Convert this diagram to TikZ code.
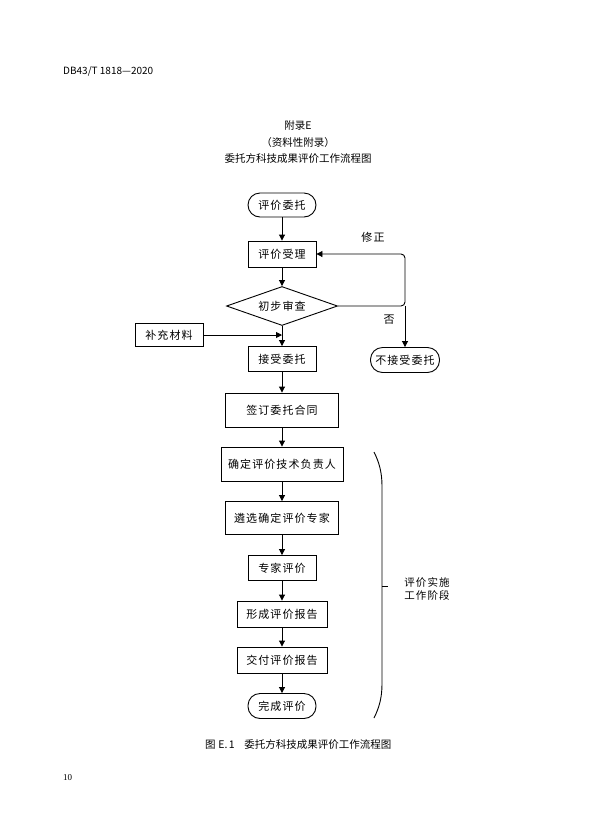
\documentclass[tikz,border=0pt]{standalone}
\usepackage{fontspec}
\setmainfont{Noto Sans CJK SC}
\newfontfamily\boxfont[LetterSpace=10]{Noto Sans CJK SC}
\newfontfamily\pnfont{Liberation Serif}
\usetikzlibrary{shapes.geometric,arrows.meta}
\begin{document}
\begin{tikzpicture}[x=1pt,y=-1pt,
  proc/.style={draw, line width=0.9pt, inner sep=0pt, font=\boxfont\fontsize{11}{13}\selectfont},
  term/.style={proc, rounded corners=12pt},
  dia/.style={draw, line width=0.9pt, diamond, shape aspect=2.85, inner sep=0pt, font=\boxfont\fontsize{11}{13}\selectfont},
  arr/.style={-{Triangle[length=6pt,width=6pt]}, line width=0.9pt},
  lbl/.style={inner sep=0pt, font=\boxfont\fontsize{11}{13}\selectfont},
  hdr/.style={inner sep=0pt, font=\fontsize{10.5}{13}\selectfont}]
\useasboundingbox[fill=white] (0,0) rectangle (593,839);

% header texts
\node[hdr, anchor=west, font=\fontsize{10}{12}\selectfont] (hd) at (63,71) {DB43/T 1818—2020};
\node[hdr] (t1) at (298,126) {附录E};
\node[hdr] (t2) at (298,143) {（资料性附录）};
\node[hdr] (t3) at (298,159) {委托方科技成果评价工作流程图};

% flow nodes
\node[term, minimum width=68pt, minimum height=24pt] (n1) at (282,205) {评价委托};
\node[proc, minimum width=68pt, minimum height=26pt] (n2) at (282,254) {评价受理};
\node[dia, minimum width=111pt, minimum height=39pt] (n3) at (282,306) {初步审查};
\node[proc, minimum width=68pt, minimum height=23pt] (bc) at (169,335) {补充材料};
\node[proc, minimum width=68pt, minimum height=25pt] (n4) at (282,359) {接受委托};
\node[term, minimum width=69pt, minimum height=25pt] (no) at (405,360) {不接受委托};
\node[proc, minimum width=113pt, minimum height=34pt] (n5) at (282,410) {签订委托合同};
\node[proc, minimum width=122pt, minimum height=34pt] (n6) at (282,464) {确定评价技术负责人};
\node[proc, minimum width=113pt, minimum height=33pt] (n7) at (282,518) {遴选确定评价专家};
\node[proc, minimum width=68pt, minimum height=25pt] (n8) at (282,568) {专家评价};
\node[proc, minimum width=90pt, minimum height=26pt] (n9) at (282,614) {形成评价报告};
\node[proc, minimum width=90pt, minimum height=26pt] (n10) at (282,660) {交付评价报告};
\node[term, minimum width=68pt, minimum height=25pt] (n11) at (282,706) {完成评价};

% vertical arrows
\draw[arr] (n1) -- (n2);
\draw[arr] (n2) -- (n3);
\draw[arr] (n3) -- (n4);
\draw[arr] (n4) -- (n5);
\draw[arr] (n5) -- (n6);
\draw[arr] (n6) -- (n7);
\draw[arr] (n7) -- (n8);
\draw[arr] (n8) -- (n9);
\draw[arr] (n9) -- (n10);
\draw[arr] (n10) -- (n11);

% supplementary material arrow
\draw[arr] (bc.east) -- (bc.east -| n4.north);

% loop back and reject
\coordinate (c1) at (405,306);
\coordinate (c2) at (405,254);
\draw[arr, rounded corners=4pt] (n3.east) -- (c1) -- (c2) -- (n2.east);
\draw[arr] (c1) -- (no.north);
\node[lbl] (l1) at (373,237) {修正};
\node[lbl] (l2) at (389,320) {否};

% brace
\coordinate (b1) at (374,452);
\coordinate (b2) at (382,486);
\coordinate (b3) at (382,684);
\coordinate (b4) at (374,718);
\coordinate (bm) at (382,586);
\coordinate (bt) at (388,586);
\draw[line width=0.9pt] (b1) .. controls (379,462) and (382,472) .. (b2) -- (b3) .. controls (382,698) and (379,708) .. (b4);
\draw[line width=0.9pt] (bm) -- (bt);
\node[lbl, align=left, font=\boxfont\fontsize{10.5}{13}\selectfont] (ph) at (427,589) {评价实施\\工作阶段};

% caption and page number
\node[hdr, anchor=west] (cap) at (205,745) {图\hspace{0.25em}E.\hspace{0.15em}1\hspace{0.9em}委托方科技成果评价工作流程图};
\node[inner sep=0pt, anchor=west, font=\pnfont\fontsize{9}{11}\selectfont] (pg) at (63,778) {10};
\end{tikzpicture}
\end{document}
